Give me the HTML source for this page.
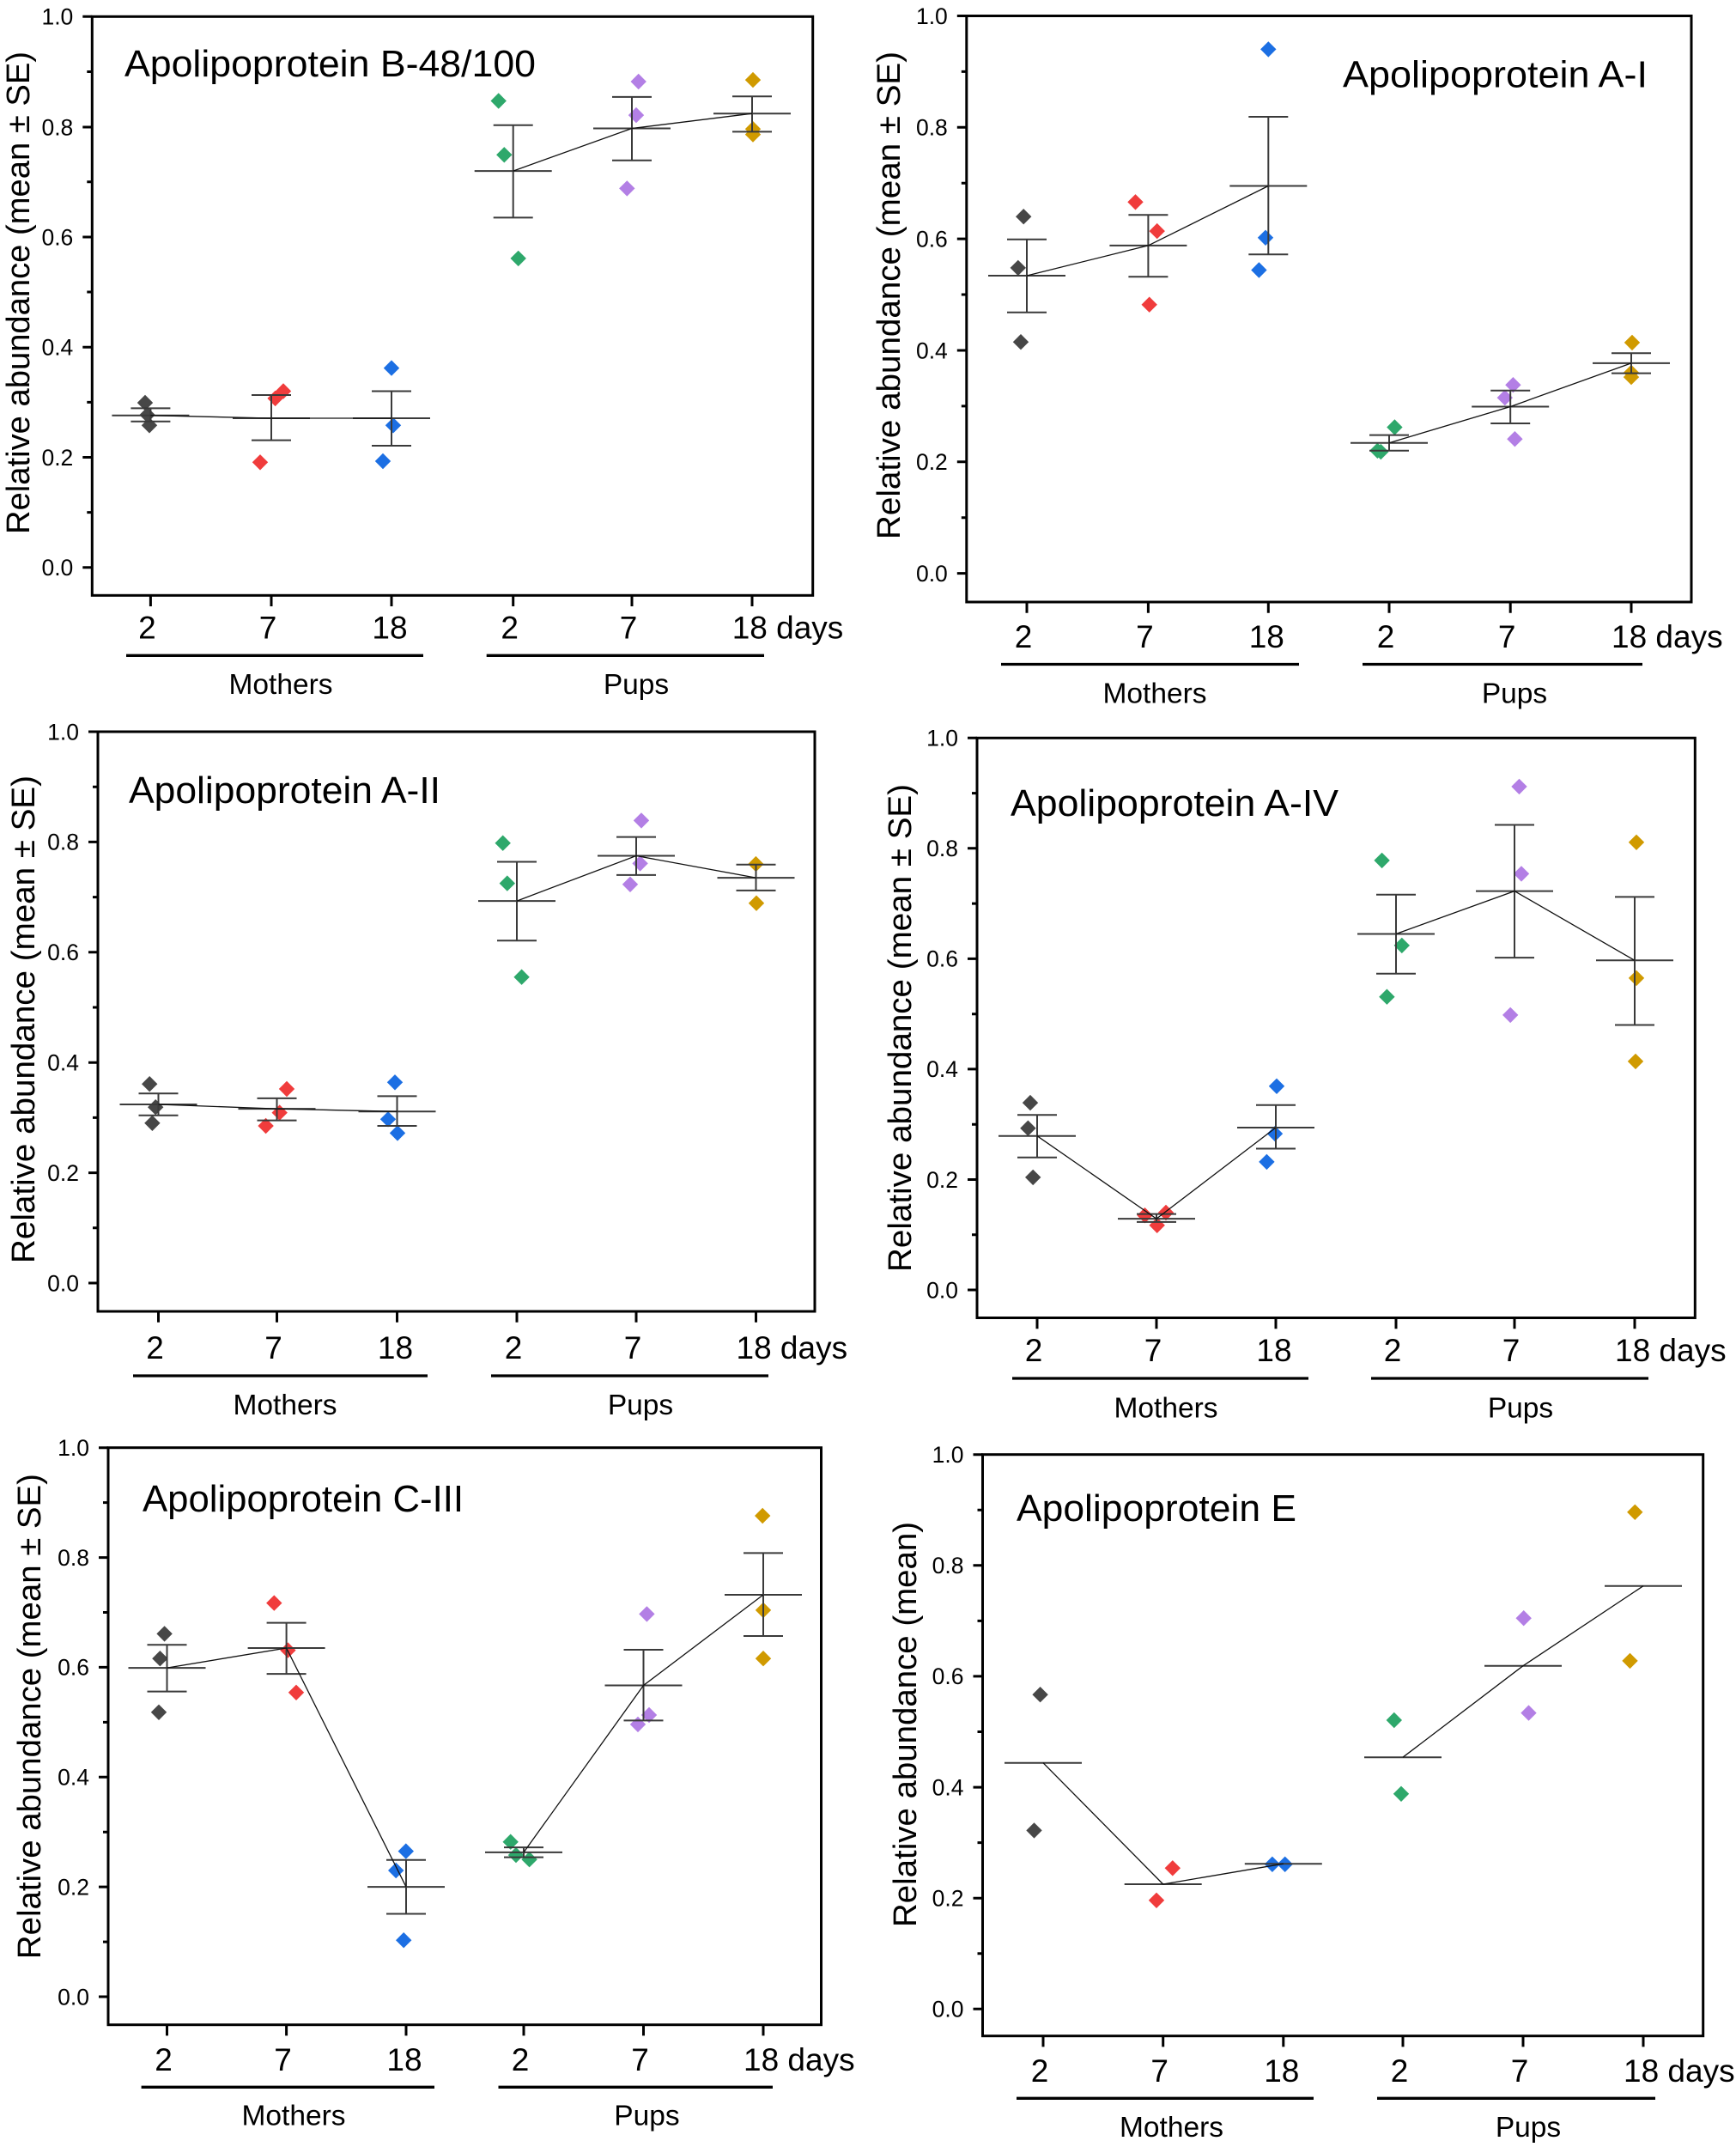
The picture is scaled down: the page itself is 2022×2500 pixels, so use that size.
<!DOCTYPE html>
<html>
<head>
<meta charset="utf-8">
<style>
html,body{margin:0;padding:0;background:#fff;}
svg{display:block;}
text{font-family:"Liberation Sans",Arial,sans-serif;fill:#000;}
.f{fill:none;stroke:#000;stroke-width:3;}
.t{stroke:#000;stroke-width:3;fill:none;}
.u{stroke:#000;stroke-width:3.3;fill:none;}
.e{stroke:#3a3a3a;stroke-width:2;fill:none;}
.c{stroke:#111;stroke-width:1.3;fill:none;}
.yl{font-size:26.5px;text-anchor:end;}
.xl{font-size:37px;text-anchor:middle;}
.xs{font-size:37px;text-anchor:start;}
.gl{font-size:33.5px;text-anchor:middle;}
.ti{font-size:44px;}
.ya{font-size:38px;text-anchor:middle;}
.k{fill:#474747}.r{fill:#f03c3c}.b{fill:#1c6fe3}.g{fill:#2ea86b}.p{fill:#b37fe5}.o{fill:#d09a00}
</style>
</head>
<body>
<svg width="2022" height="2500" viewBox="0 0 2022 2500" xmlns="http://www.w3.org/2000/svg">
<defs><path id="d" d="M0,-9.2L9.2,0L0,9.2L-9.2,0Z"/></defs>

<!-- ================= PANEL 1 ================= -->
<g>
<rect class="f" x="107.3" y="19.3" width="839.4" height="674"/>
<path class="t" d="M96.3,19.3H107.3M96.3,148H107.3M96.3,276H107.3M96.3,404.2H107.3M96.3,532.5H107.3M96.3,660.8H107.3M101.3,83.5H107.3M101.3,211.7H107.3M101.3,340H107.3M101.3,468.4H107.3M101.3,596.6H107.3"/>
<text class="yl" x="85.3" y="28.6">1.0</text>
<text class="yl" x="85.3" y="157.3">0.8</text>
<text class="yl" x="85.3" y="285.3">0.6</text>
<text class="yl" x="85.3" y="413.5">0.4</text>
<text class="yl" x="85.3" y="541.8">0.2</text>
<text class="yl" x="85.3" y="670.1">0.0</text>
<path class="t" d="M175.4,693.3V706M316,693.3V706M456,693.3V706M597.7,693.3V706M736,693.3V706M876,693.3V706"/>
<text class="xl" x="171.4" y="743.3">2</text>
<text class="xl" x="312" y="743.3">7</text>
<text class="xl" x="454" y="743.3">18</text>
<text class="xl" x="593.7" y="743.3">2</text>
<text class="xl" x="732" y="743.3">7</text>
<text class="xs" x="852.7" y="743.3">18 days</text>
<path class="u" d="M147,763.3H493M566.7,763.3H890"/>
<text class="gl" x="327" y="808">Mothers</text>
<text class="gl" x="741" y="808">Pups</text>
<text class="ti" x="145" y="89" textLength="479" lengthAdjust="spacingAndGlyphs">Apolipoprotein B-48/100</text>
<text class="ya" transform="translate(33.8,341) rotate(-90)" textLength="562" lengthAdjust="spacingAndGlyphs">Relative abundance (mean ± SE)</text>
<use href="#d" class="k" x="169" y="469"/><use href="#d" class="k" x="171.6" y="483.1"/><use href="#d" class="k" x="174" y="495.3"/>
<use href="#d" class="r" x="303" y="538.3"/><use href="#d" class="r" x="320.6" y="463.9"/><use href="#d" class="r" x="330" y="455.5"/>
<use href="#d" class="b" x="456" y="428.6"/><use href="#d" class="b" x="458" y="495.3"/><use href="#d" class="b" x="446" y="537"/>
<use href="#d" class="g" x="580.7" y="117.5"/><use href="#d" class="g" x="587.3" y="180.3"/><use href="#d" class="g" x="603.7" y="300.9"/>
<use href="#d" class="p" x="743.7" y="95"/><use href="#d" class="p" x="741" y="134.1"/><use href="#d" class="p" x="730.3" y="219.4"/>
<use href="#d" class="o" x="877" y="93.1"/><use href="#d" class="o" x="877" y="150.2"/><use href="#d" class="o" x="877" y="156.6"/>
<path class="e" d="M130.4,483.7H220.4M175.4,475.4V490.8M152.4,475.4H198.4M152.4,490.8H198.4
M271,487H361M316,460V512.6M293,460H339M293,512.6H339
M411,487H501M456,455.5V519M433,455.5H479M433,519H479
M552.7,199.1H642.7M597.7,145.7V253.4M574.7,145.7H620.7M574.7,253.4H620.7
M691,149.5H781M736,112.9V186.7M713,112.9H759M713,186.7H759
M831,132.2H921M876,112.3V153.4M853,112.3H899M853,153.4H899"/>
<polyline class="c" points="175.4,483.7 316,487 456,487"/>
<polyline class="c" points="597.7,199.1 736,149.5 876,132.2"/>
</g>

<!-- ================= PANEL 2 ================= -->
<g>
<rect class="f" x="1125.8" y="18.5" width="844.2" height="682.5"/>
<path class="t" d="M1114.8,18.5H1125.8M1114.8,148.3H1125.8M1114.8,278.1H1125.8M1114.8,408H1125.8M1114.8,537.8H1125.8M1114.8,667.6H1125.8M1119.8,83.4H1125.8M1119.8,213.2H1125.8M1119.8,343H1125.8M1119.8,472.9H1125.8M1119.8,602.7H1125.8"/>
<text class="yl" x="1103.8" y="27.8">1.0</text>
<text class="yl" x="1103.8" y="157.6">0.8</text>
<text class="yl" x="1103.8" y="287.4">0.6</text>
<text class="yl" x="1103.8" y="417.3">0.4</text>
<text class="yl" x="1103.8" y="547.1">0.2</text>
<text class="yl" x="1103.8" y="676.9">0.0</text>
<path class="t" d="M1196,701V713.7M1337.4,701V713.7M1477.3,701V713.7M1618,701V713.7M1759.2,701V713.7M1900,701V713.7"/>
<text class="xl" x="1192" y="754">2</text>
<text class="xl" x="1333.4" y="754">7</text>
<text class="xl" x="1475.3" y="754">18</text>
<text class="xl" x="1614" y="754">2</text>
<text class="xl" x="1755.2" y="754">7</text>
<text class="xs" x="1877" y="754">18 days</text>
<path class="u" d="M1166,773.5H1513M1587,773.5H1913"/>
<text class="gl" x="1345" y="818.7">Mothers</text>
<text class="gl" x="1764" y="818.7">Pups</text>
<text class="ti" x="1564" y="101.6" textLength="355" lengthAdjust="spacingAndGlyphs">Apolipoprotein A-I</text>
<text class="ya" transform="translate(1048,344) rotate(-90)" textLength="568" lengthAdjust="spacingAndGlyphs">Relative abundance (mean ± SE)</text>
<use href="#d" class="k" x="1192.2" y="252.2"/><use href="#d" class="k" x="1185.8" y="311.9"/><use href="#d" class="k" x="1189" y="398.2"/>
<use href="#d" class="r" x="1322.5" y="235.3"/><use href="#d" class="r" x="1347.7" y="269.1"/><use href="#d" class="r" x="1338.7" y="354.7"/>
<use href="#d" class="b" x="1477.3" y="57.4"/><use href="#d" class="b" x="1474" y="276.8"/><use href="#d" class="b" x="1466.4" y="314.5"/>
<use href="#d" class="g" x="1624.4" y="497.5"/><use href="#d" class="g" x="1604.4" y="524.8"/><use href="#d" class="g" x="1608.3" y="526.1"/>
<use href="#d" class="p" x="1762.4" y="448.2"/><use href="#d" class="p" x="1752.8" y="463.1"/><use href="#d" class="p" x="1764.4" y="511.2"/>
<use href="#d" class="o" x="1901" y="398.9"/><use href="#d" class="o" x="1900" y="433.9"/><use href="#d" class="o" x="1900" y="439.1"/>
<path class="e" d="M1151,321H1241M1196,278.8V363.8M1173,278.8H1219M1173,363.8H1219
M1292.4,285.9H1382.4M1337.4,250.2V322.3M1314.4,250.2H1360.4M1314.4,322.3H1360.4
M1432.3,216.5H1522.3M1477.3,136V296.3M1454.3,136H1500.3M1454.3,296.3H1500.3
M1573,515.7H1663M1618,506.6V524.8M1595,506.6H1641M1595,524.8H1641
M1714.2,473.5H1804.2M1759.2,454.7V493M1736.2,454.7H1782.2M1736.2,493H1782.2
M1855,422.9H1945M1900,411.2V434.6M1877,411.2H1923M1877,434.6H1923"/>
<polyline class="c" points="1196,321 1337.4,285.9 1477.3,216.5"/>
<polyline class="c" points="1618,515.7 1759.2,473.5 1900,422.9"/>
</g>

<!-- ================= PANEL 3 ================= -->
<g>
<rect class="f" x="114" y="852" width="835" height="675"/>
<path class="t" d="M103,852H114M103,980.4H114M103,1108.8H114M103,1237.2H114M103,1365.6H114M103,1494H114M108,916.2H114M108,1044.6H114M108,1173H114M108,1301.4H114M108,1429.8H114"/>
<text class="yl" x="92" y="861.3">1.0</text>
<text class="yl" x="92" y="989.7">0.8</text>
<text class="yl" x="92" y="1118.1">0.6</text>
<text class="yl" x="92" y="1246.5">0.4</text>
<text class="yl" x="92" y="1374.9">0.2</text>
<text class="yl" x="92" y="1503.3">0.0</text>
<path class="t" d="M184.5,1527V1539.7M322.5,1527V1539.7M462.5,1527V1539.7M602,1527V1539.7M741,1527V1539.7M880.5,1527V1539.7"/>
<text class="xl" x="180.5" y="1582">2</text>
<text class="xl" x="318.5" y="1582">7</text>
<text class="xl" x="460.5" y="1582">18</text>
<text class="xl" x="598" y="1582">2</text>
<text class="xl" x="737" y="1582">7</text>
<text class="xs" x="857.5" y="1582">18 days</text>
<path class="u" d="M155,1602H498M572,1602H895"/>
<text class="gl" x="332" y="1647">Mothers</text>
<text class="gl" x="746" y="1647">Pups</text>
<text class="ti" x="150" y="935" textLength="363" lengthAdjust="spacingAndGlyphs">Apolipoprotein A-II</text>
<text class="ya" transform="translate(40,1187) rotate(-90)" textLength="568" lengthAdjust="spacingAndGlyphs">Relative abundance (mean ± SE)</text>
<use href="#d" class="k" x="174.2" y="1262.2"/><use href="#d" class="k" x="181.2" y="1289.2"/><use href="#d" class="k" x="177.4" y="1307.8"/>
<use href="#d" class="r" x="334" y="1268"/><use href="#d" class="r" x="325.7" y="1295.6"/><use href="#d" class="r" x="309.6" y="1311"/>
<use href="#d" class="b" x="460" y="1260.3"/><use href="#d" class="b" x="452" y="1303.3"/><use href="#d" class="b" x="463" y="1319.4"/>
<use href="#d" class="g" x="585.7" y="981.7"/><use href="#d" class="g" x="590.8" y="1028.6"/><use href="#d" class="g" x="607.6" y="1137.7"/>
<use href="#d" class="p" x="747" y="955.4"/><use href="#d" class="p" x="745.6" y="1005.4"/><use href="#d" class="p" x="734" y="1029.8"/>
<use href="#d" class="o" x="880.4" y="1006.1"/><use href="#d" class="o" x="881" y="1051.7"/>
<path class="e" d="M139.5,1286H229.5M184.5,1273.2V1298.8M161.5,1273.2H207.5M161.5,1298.8H207.5
M277.5,1291.1H367.5M322.5,1278.9V1304.6M299.5,1278.9H345.5M299.5,1304.6H345.5
M417.5,1294.3H507.5M462.5,1276.4V1311M439.5,1276.4H485.5M439.5,1311H485.5
M557,1049.1H647M602,1003.5V1095.3M579,1003.5H625M579,1095.3H625
M696,996.5H786M741,974.6V1018.9M718,974.6H764M718,1018.9H764
M835.5,1022.1H925.5M880.5,1006.7V1036.9M857.5,1006.7H903.5M857.5,1036.9H903.5"/>
<polyline class="c" points="184.5,1286 322.5,1291.1 462.5,1294.3"/>
<polyline class="c" points="602,1049.1 741,996.5 880.5,1022.1"/>
</g>

<!-- ================= PANEL 4 ================= -->
<g>
<rect class="f" x="1138" y="859.3" width="836.3" height="675.2"/>
<path class="t" d="M1127,859.3H1138M1127,987.8H1138M1127,1116.4H1138M1127,1244.9H1138M1127,1373.5H1138M1127,1502H1138M1132,923.6H1138M1132,1052.1H1138M1132,1180.7H1138M1132,1309.2H1138M1132,1437.7H1138"/>
<text class="yl" x="1116" y="868.6">1.0</text>
<text class="yl" x="1116" y="997.1">0.8</text>
<text class="yl" x="1116" y="1125.7">0.6</text>
<text class="yl" x="1116" y="1254.2">0.4</text>
<text class="yl" x="1116" y="1382.8">0.2</text>
<text class="yl" x="1116" y="1511.3">0.0</text>
<path class="t" d="M1208,1534.5V1547.2M1347,1534.5V1547.2M1486,1534.5V1547.2M1626,1534.5V1547.2M1764,1534.5V1547.2M1904,1534.5V1547.2"/>
<text class="xl" x="1204" y="1585">2</text>
<text class="xl" x="1343" y="1585">7</text>
<text class="xl" x="1484" y="1585">18</text>
<text class="xl" x="1622" y="1585">2</text>
<text class="xl" x="1760" y="1585">7</text>
<text class="xs" x="1881" y="1585">18 days</text>
<path class="u" d="M1179,1605H1524M1597,1605H1920"/>
<text class="gl" x="1358" y="1650.7">Mothers</text>
<text class="gl" x="1771" y="1650.7">Pups</text>
<text class="ti" x="1177" y="950" textLength="382" lengthAdjust="spacingAndGlyphs">Apolipoprotein A-IV</text>
<text class="ya" transform="translate(1061,1197) rotate(-90)" textLength="568" lengthAdjust="spacingAndGlyphs">Relative abundance (mean ± SE)</text>
<use href="#d" class="k" x="1200" y="1284.1"/><use href="#d" class="k" x="1197.4" y="1313.7"/><use href="#d" class="k" x="1203.2" y="1370.9"/>
<use href="#d" class="r" x="1333.5" y="1415.2"/><use href="#d" class="r" x="1358" y="1412"/><use href="#d" class="r" x="1347.7" y="1426.8"/>
<use href="#d" class="b" x="1487" y="1264.8"/><use href="#d" class="b" x="1485" y="1320.1"/><use href="#d" class="b" x="1475.4" y="1352.9"/>
<use href="#d" class="g" x="1609.6" y="1001.9"/><use href="#d" class="g" x="1632.8" y="1100.9"/><use href="#d" class="g" x="1615.4" y="1160.7"/>
<use href="#d" class="p" x="1769.5" y="915.9"/><use href="#d" class="p" x="1772" y="1017.4"/><use href="#d" class="p" x="1759.2" y="1181.9"/>
<use href="#d" class="o" x="1906" y="980.8"/><use href="#d" class="o" x="1906" y="1138.9"/><use href="#d" class="o" x="1905" y="1235.9"/>
<path class="e" d="M1163,1322.7H1253M1208,1298.3V1347.8M1185,1298.3H1231M1185,1347.8H1231
M1302,1419.1H1392M1347,1413.6V1422.9M1324,1413.6H1370M1324,1422.9H1370
M1441,1313H1531M1486,1286.7V1337.5M1463,1286.7H1509M1463,1337.5H1509
M1581,1087.5H1671M1626,1041.8V1133.7M1603,1041.8H1649M1603,1133.7H1649
M1719,1037.6H1809M1764,960.5V1115.1M1741,960.5H1787M1741,1115.1H1787
M1859,1118.3H1949M1904,1044.4V1193.5M1881,1044.4H1927M1881,1193.5H1927"/>
<polyline class="c" points="1208,1322.7 1347,1419.1 1486,1313"/>
<polyline class="c" points="1626,1087.5 1764,1037.6 1904,1118.3"/>
</g>

<!-- ================= PANEL 5 ================= -->
<g>
<rect class="f" x="126" y="1685.7" width="830.5" height="672"/>
<path class="t" d="M115,1685.7H126M115,1813.6H126M115,1941.4H126M115,2069.3H126M115,2197.1H126M115,2325H126M120,1749.6H126M120,1877.5H126M120,2005.4H126M120,2133.2H126M120,2261.1H126"/>
<text class="yl" x="104" y="1695">1.0</text>
<text class="yl" x="104" y="1822.9">0.8</text>
<text class="yl" x="104" y="1950.7">0.6</text>
<text class="yl" x="104" y="2078.6">0.4</text>
<text class="yl" x="104" y="2206.4">0.2</text>
<text class="yl" x="104" y="2334.3">0.0</text>
<path class="t" d="M194.5,2357.7V2370.4M333.6,2357.7V2370.4M473,2357.7V2370.4M610,2357.7V2370.4M749.5,2357.7V2370.4M889,2357.7V2370.4"/>
<text class="xl" x="190.5" y="2411">2</text>
<text class="xl" x="329.6" y="2411">7</text>
<text class="xl" x="471" y="2411">18</text>
<text class="xl" x="606" y="2411">2</text>
<text class="xl" x="745.5" y="2411">7</text>
<text class="xs" x="866" y="2411">18 days</text>
<path class="u" d="M164.6,2430.3H506M580.5,2430.3H900"/>
<text class="gl" x="342" y="2474.3">Mothers</text>
<text class="gl" x="753.4" y="2474.3">Pups</text>
<text class="ti" x="166" y="1760" textLength="374" lengthAdjust="spacingAndGlyphs">Apolipoprotein C-III</text>
<text class="ya" transform="translate(47,1998.6) rotate(-90)" textLength="565" lengthAdjust="spacingAndGlyphs">Relative abundance (mean ± SE)</text>
<use href="#d" class="k" x="191.6" y="1902.4"/><use href="#d" class="k" x="186.4" y="1931.2"/><use href="#d" class="k" x="185" y="1993.8"/>
<use href="#d" class="r" x="319.3" y="1866.6"/><use href="#d" class="r" x="335.4" y="1921.6"/><use href="#d" class="r" x="345" y="1970.8"/>
<use href="#d" class="b" x="472.8" y="2155.6"/><use href="#d" class="b" x="461.2" y="2178"/><use href="#d" class="b" x="470.2" y="2259.2"/>
<use href="#d" class="g" x="594.7" y="2144.7"/><use href="#d" class="g" x="601" y="2160.1"/><use href="#d" class="g" x="616.6" y="2165.2"/>
<use href="#d" class="p" x="753.4" y="1879.4"/><use href="#d" class="p" x="756" y="1997"/><use href="#d" class="p" x="743" y="2007.9"/>
<use href="#d" class="o" x="888.2" y="1765"/><use href="#d" class="o" x="889" y="1874.9"/><use href="#d" class="o" x="889" y="1931.2"/>
<path class="e" d="M149.5,1942.1H239.5M194.5,1915.2V1969.6M171.5,1915.2H217.5M171.5,1969.6H217.5
M288.6,1919H378.6M333.6,1889.6V1949.1M310.6,1889.6H356.6M310.6,1949.1H356.6
M428,2197.1H518M473,2165.8V2228.5M450,2165.8H496M450,2228.5H496
M565,2156.9H655M610,2151.1V2162.6M587,2151.1H633M587,2162.6H633
M704.5,1962.5H794.5M749.5,1921V2003.4M726.5,1921H772.5M726.5,2003.4H772.5
M844,1857H934M889,1808.4V1905M866,1808.4H912M866,1905H912"/>
<polyline class="c" points="194.5,1942.1 333.6,1919 473,2197.1"/>
<polyline class="c" points="610,2156.9 749.5,1962.5 889,1857"/>
</g>

<!-- ================= PANEL 6 ================= -->
<g>
<rect class="f" x="1144.5" y="1693.7" width="839.2" height="677"/>
<path class="t" d="M1133.5,1693.7H1144.5M1133.5,1822.8H1144.5M1133.5,1951.9H1144.5M1133.5,2081.1H1144.5M1133.5,2210.2H1144.5M1133.5,2339.3H1144.5M1138.5,1758.3H1144.5M1138.5,1887.4H1144.5M1138.5,2016.5H1144.5M1138.5,2145.6H1144.5M1138.5,2274.7H1144.5"/>
<text class="yl" x="1122.5" y="1703">1.0</text>
<text class="yl" x="1122.5" y="1832.1">0.8</text>
<text class="yl" x="1122.5" y="1961.2">0.6</text>
<text class="yl" x="1122.5" y="2090.4">0.4</text>
<text class="yl" x="1122.5" y="2219.5">0.2</text>
<text class="yl" x="1122.5" y="2348.6">0.0</text>
<path class="t" d="M1215,2370.7V2383.4M1354.7,2370.7V2383.4M1494.8,2370.7V2383.4M1634,2370.7V2383.4M1774,2370.7V2383.4M1914,2370.7V2383.4"/>
<text class="xl" x="1211" y="2424">2</text>
<text class="xl" x="1350.7" y="2424">7</text>
<text class="xl" x="1492.8" y="2424">18</text>
<text class="xl" x="1630" y="2424">2</text>
<text class="xl" x="1770" y="2424">7</text>
<text class="xs" x="1891" y="2424">18 days</text>
<path class="u" d="M1184,2443.3H1530M1604,2443.3H1928"/>
<text class="gl" x="1364.5" y="2488">Mothers</text>
<text class="gl" x="1780" y="2488">Pups</text>
<text class="ti" x="1184" y="1771" textLength="326" lengthAdjust="spacingAndGlyphs">Apolipoprotein E</text>
<text class="ya" transform="translate(1067,2008) rotate(-90)" textLength="472" lengthAdjust="spacingAndGlyphs">Relative abundance (mean)</text>
<use href="#d" class="k" x="1211.6" y="1973.2"/><use href="#d" class="k" x="1204.5" y="2131.4"/>
<use href="#d" class="r" x="1365.8" y="2175.3"/><use href="#d" class="r" x="1347" y="2212.8"/>
<use href="#d" class="b" x="1481.9" y="2170.8"/><use href="#d" class="b" x="1496.7" y="2170.8"/>
<use href="#d" class="g" x="1623.8" y="2003"/><use href="#d" class="g" x="1632" y="2088.8"/>
<use href="#d" class="p" x="1774.7" y="1884.2"/><use href="#d" class="p" x="1780.5" y="1994.6"/>
<use href="#d" class="o" x="1904.3" y="1760.8"/><use href="#d" class="o" x="1898.5" y="1933.9"/>
<path class="e" d="M1170,2052.7H1260M1309.7,2194H1399.7M1449.8,2170.2H1539.8M1589,2046.2H1679M1729,1939.7H1819M1869,1846.7H1959"/>
<polyline class="c" points="1215,2052.7 1354.7,2194 1494.8,2170.2"/>
<polyline class="c" points="1634,2046.2 1774,1939.7 1914,1846.7"/>
</g>
</svg>
</body>
</html>
